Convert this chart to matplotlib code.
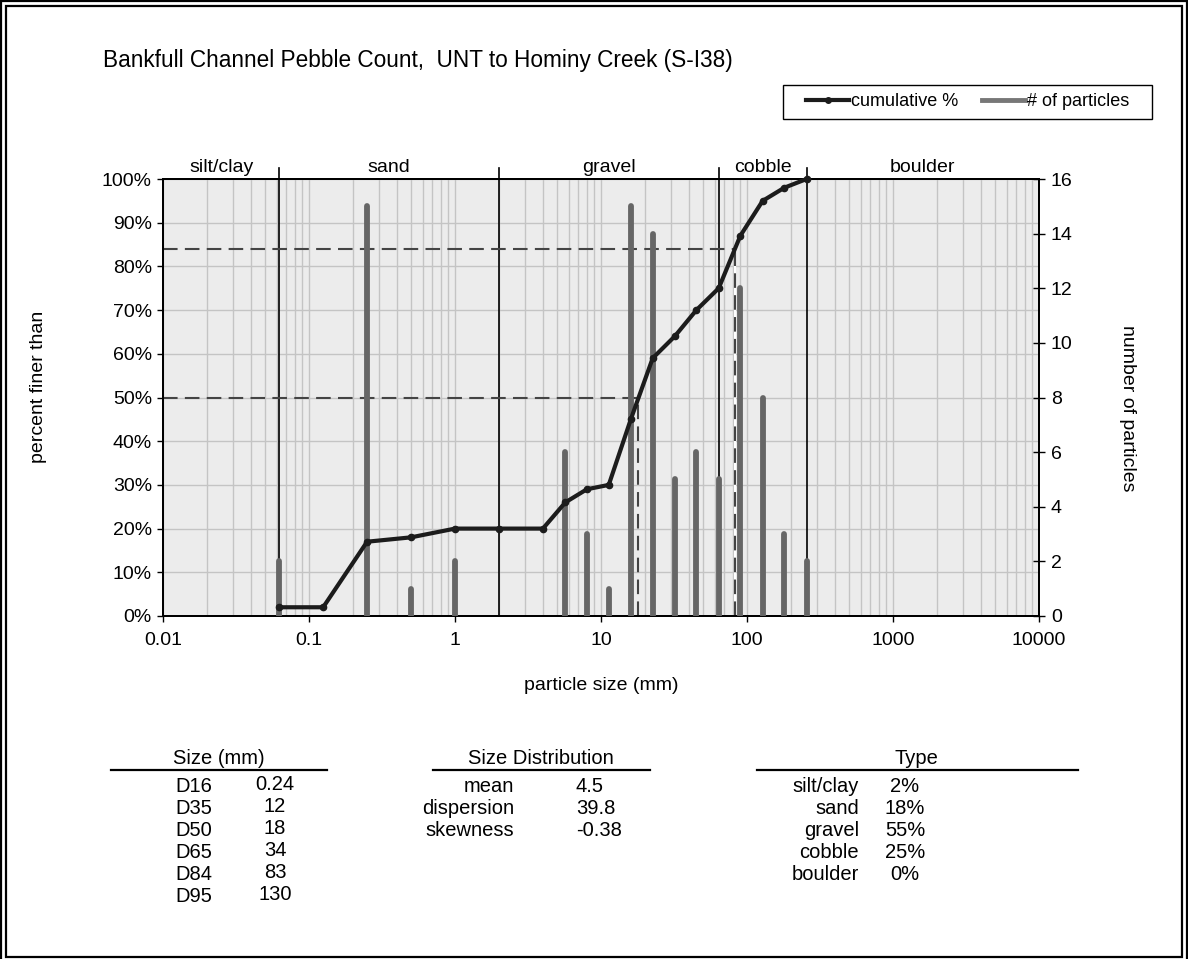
import matplotlib
matplotlib.use('Agg')
import matplotlib.pyplot as plt
from matplotlib.lines import Line2D
from matplotlib.patches import Rectangle
from matplotlib.ticker import FixedLocator, FixedFormatter, LogLocator, NullFormatter, FuncFormatter
import numpy as np

plt.rcParams['font.family'] = ['Liberation Sans', 'DejaVu Sans']

# ---------------- data ----------------
title = "Bankfull Channel Pebble Count,  UNT to Hominy Creek (S-I38)"
sizes = [0.062, 0.125, 0.25, 0.5, 1, 2, 4, 5.7, 8, 11.3, 16, 22.6, 32, 45, 64, 90, 128, 180, 256]
cum_pct = [2, 2, 17, 18, 20, 20, 20, 26, 29, 30, 45, 59, 64, 70, 75, 87, 95, 98, 100]
bar_sizes = [0.062, 0.25, 0.5, 1, 5.7, 8, 11.3, 16, 22.6, 32, 45, 64, 90, 128, 180, 256]
counts = [2, 15, 1, 2, 6, 3, 1, 15, 14, 5, 6, 5, 12, 8, 3, 2]
class_bounds = [0.01, 0.0625, 2, 64, 256, 10000]
class_names = ["silt/clay", "sand", "gravel", "cobble", "boulder"]
d_levels = [50, 84]
d_values = [18, 83]
x_ticks = [0.01, 0.1, 1, 10, 100, 1000, 10000]
x_ticklabels = ["0.01", "0.1", "1", "10", "100", "1000", "10000"]
y_ticks = list(range(0, 101, 10))
y2_ticks = list(range(0, 17, 2))

size_labels = ["D16", "D35", "D50", "D65", "D84", "D95"]
size_values = ["0.24", "12", "18", "34", "83", "130"]
dist_labels = ["mean", "dispersion", "skewness"]
dist_values = ["4.5", "39.8", "-0.38"]
type_labels = ["silt/clay", "sand", "gravel", "cobble", "boulder"]
type_values = ["2%", "18%", "55%", "25%", "0%"]

# ---------------- figure ----------------
W, H = 1188, 959
fig = plt.figure(figsize=(W / 100, H / 100), dpi=100)
FS = 14

def fx(px):
    return px / W

def fy(py):
    return 1 - py / H

L, R, T, B = 163, 1039, 179, 616
ax = fig.add_axes([fx(L), fy(B), (R - L) / W, (B - T) / H])
ax.set_xscale('log')
ax.set_xlim(0.01, 10000)
ax.set_ylim(0, 100)
ax.set_facecolor('#ececec')
ax.xaxis.set_major_locator(FixedLocator(x_ticks))
ax.xaxis.set_major_formatter(FixedFormatter(x_ticklabels))
ax.xaxis.set_minor_locator(LogLocator(base=10, subs=range(2, 10), numticks=100))
ax.xaxis.set_minor_formatter(NullFormatter())
ax.set_yticks(y_ticks)
ax.yaxis.set_major_formatter(FuncFormatter(lambda v, p: f"{int(v)}%"))
ax.grid(which='both', axis='x', color='#c4c4c4', lw=1)
ax.grid(which='major', axis='y', color='#c4c4c4', lw=1)
ax.set_axisbelow(True)
ax.tick_params(axis='x', which='minor', length=0)
ax.tick_params(axis='both', which='major', direction='out', length=4.5, width=1,
               labelsize=FS, color='black')
ax.tick_params(axis='x', pad=7)
for s in ax.spines.values():
    s.set_linewidth(1.4)
    s.set_color('black')

# class boundaries
for b in class_bounds[1:-1]:
    ax.plot([b, b], [0, 102.5], color='black', lw=1.2, clip_on=False, zorder=2)
for i, name in enumerate(class_names):
    xc = np.sqrt(class_bounds[i] * class_bounds[i + 1])
    ax.text(xc, 100.6, name, ha='center', va='bottom', fontsize=FS)

# D50 / D84 dashed guides
for lev, dv in zip(d_levels, d_values):
    ax.plot([0.01, dv], [lev, lev], color='#444444', lw=1.5, dashes=(7, 3.5), zorder=2)
    if lev == 84:
        ax.plot([dv, dv], [0, lev], color='white', lw=1.5, zorder=2)
    ax.plot([dv, dv], [0, lev], color='#444444', lw=1.5, dashes=(7, 3.5), zorder=2)

ax.set_xlabel("particle size (mm)", fontsize=FS)
ax.xaxis.set_label_coords(0.5, (B - 677) / (B - T))
ax.set_ylabel("percent finer than", fontsize=FS)
ax.yaxis.set_label_coords((47 - L) / (R - L), (B - 387) / (B - T))

# secondary axis
ax2 = ax.twinx()
ax2.set_ylim(0, 16)
ax2.set_yticks(y2_ticks)
ax2.tick_params(axis='y', direction='inout', length=9, width=1, labelsize=FS, pad=4)
for s in ax2.spines.values():
    s.set_linewidth(1.4)
    s.set_color('black')
bars = ax2.vlines(bar_sizes, 0, counts, colors='#666666', lw=4.2, zorder=3)
bars.set_capstyle('round')
ax2.plot(sizes, cum_pct, transform=ax.transData, color='#1c1c1c', lw=3,
         marker='o', ms=4.5, zorder=5, clip_on=False)
ax2.set_ylim(0, 16)
ax2.set_ylabel("number of particles", fontsize=FS, rotation=270, va='center')
ax2.yaxis.set_label_coords((1127 - L) / (R - L), (B - 408) / (B - T))

# title
fig.text(fx(103), fy(60), title, fontsize=16.3, ha='left', va='center')

# legend
handles = [Line2D([], [], color='#1c1c1c', lw=3, marker='o', ms=4),
           Line2D([], [], color='#777777', lw=3.5)]
fig.legend(handles, ["cumulative %", "# of particles"], loc='center left',
           bbox_to_anchor=(fx(806), fy(102)), frameon=False, ncol=2,
           handlelength=2.4, handletextpad=0.1, columnspacing=1.3,
           borderpad=0, borderaxespad=0, fontsize=13)
fig.patches.append(Rectangle((fx(783), fy(119)), (1152 - 783) / W, (119 - 85) / H,
                             transform=fig.transFigure, fill=False, ec='black', lw=1))

# outer frame
fig.patches.append(Rectangle((fx(1), fy(962)), (1187 - 1) / W, (962 - 1) / H,
                             transform=fig.transFigure, fill=False, ec='black', lw=1.6))
fig.patches.append(Rectangle((fx(6), fy(957)), (1182 - 6) / W, (957 - 6) / H,
                             transform=fig.transFigure, fill=False, ec='black', lw=1.6))

# ---------------- tables ----------------
TFS = 14.5
row_y = [787, 809, 831, 853, 875, 897]

def hline(x0, x1, y):
    fig.add_artist(Line2D([fx(x0), fx(x1)], [fy(y), fy(y)], color='black', lw=1.6,
                          transform=fig.transFigure))

fig.text(fx(219), fy(758), "Size (mm)", fontsize=TFS, ha='center', va='center')
hline(111, 327, 770)
for i, (lab, val) in enumerate(zip(size_labels, size_values)):
    fig.text(fx(175), fy(row_y[i]), lab, fontsize=TFS, ha='left', va='center')
    fig.text(fx(275), fy(row_y[i] - 2), val, fontsize=TFS, ha='center', va='center')

fig.text(fx(541), fy(758), "Size Distribution", fontsize=TFS, ha='center', va='center')
hline(433, 650, 770)
for i, (lab, val) in enumerate(zip(dist_labels, dist_values)):
    fig.text(fx(514), fy(row_y[i]), lab, fontsize=TFS, ha='right', va='center')
    fig.text(fx(576), fy(row_y[i]), val, fontsize=TFS, ha='left', va='center')

fig.text(fx(916), fy(758), "Type", fontsize=TFS, ha='center', va='center')
hline(757, 1078, 770)
for i, (lab, val) in enumerate(zip(type_labels, type_values)):
    fig.text(fx(859), fy(row_y[i]), lab, fontsize=TFS, ha='right', va='center')
    fig.text(fx(905), fy(row_y[i]), val, fontsize=TFS, ha='center', va='center')

fig.savefig("out.png", dpi=100)
